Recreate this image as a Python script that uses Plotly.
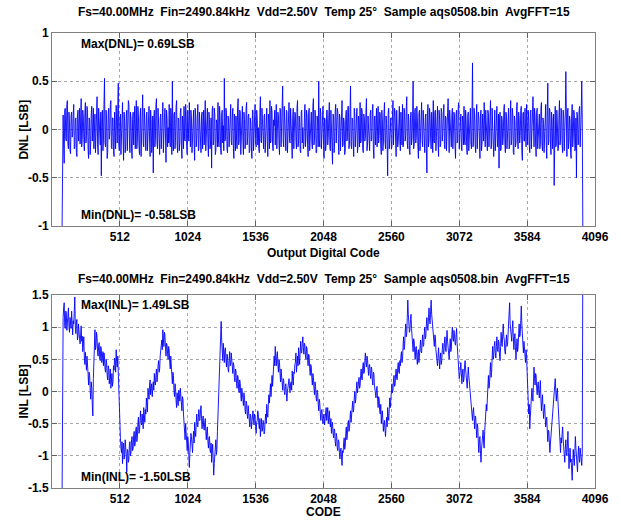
import plotly.graph_objects as go

# ---------------- data ----------------
CODE_START = 76
CODE_STEP = 4

dnl = [
    -1.00, 0.12, 0.15, -0.18, -0.35, 0.20, 0.22, -0.10, -0.12, 0.26, 0.30, -0.15, -0.20, 0.18, 0.08, -0.22, -0.25, 0.14, 0.18, -0.08,
    -0.05, 0.16, 0.26, -0.20, -0.18, 0.10, 0.12, -0.24, -0.28, 0.14, 0.20, -0.12, 0.02, 0.22, -0.15, 0.06, 0.32, -0.18, -0.10, 0.20,
    0.14, -0.10, -0.22, 0.18, 0.28, -0.14, -0.06, 0.24, 0.18, -0.20, -0.30, 0.12, 0.10, -0.26, -0.14, 0.16, 0.24, -0.12, -0.02, 0.22,
    -0.20, 0.10, 0.16, -0.24, -0.08, 0.20, 0.34, -0.16, -0.26, 0.22, 0.06, -0.12, -0.16, 0.18, -0.48, 0.08, 0.20, -0.22, -0.12, 0.26,
    0.53, -0.14, -0.18, 0.20, 0.10, -0.30, -0.24, 0.16, 0.22, -0.10, -0.04, 0.26, 0.30, -0.18, -0.20, 0.12, 0.12, -0.22, -0.28, 0.18,
    0.04, -0.20, 0.25, -0.12, -0.14, 0.22, 0.48, -0.16, -0.22, 0.10, 0.16, -0.26, -0.10, 0.20, 0.28, -0.08, -0.32, 0.18, 0.08, -0.24,
    -0.16, 0.14, 0.20, -0.22, -0.06, 0.30, 0.26, -0.12, -0.24, 0.18, 0.12, -0.20, -0.30, 0.10, 0.18, -0.16, 0.02, 0.24, -0.20, 0.08,
    0.30, -0.20, -0.12, 0.24, 0.14, -0.16, -0.26, 0.12, 0.22, -0.28, -0.08, 0.18, 0.36, -0.14, -0.18, 0.22, 0.06, -0.10, -0.22, 0.16,
    0.18, -0.22, -0.04, 0.16, 0.24, -0.12, -0.28, 0.20, 0.10, -0.24, -0.16, 0.14, -0.45, 0.10, 0.20, -0.18, -0.10, 0.26, 0.32, -0.14,
    -0.20, 0.22, 0.08, -0.16, -0.26, 0.12, 0.16, -0.20, -0.06, 0.18, 0.28, -0.24, -0.14, 0.10, 0.22, -0.12, -0.34, 0.20, 0.12, -0.18,
    0.02, -0.14, 0.26, -0.10, -0.18, 0.22, 0.14, -0.26, 0.50, -0.12, -0.22, 0.16, 0.18, -0.20, -0.08, 0.24, 0.30, -0.16, -0.24, 0.12,
    0.10, -0.22, -0.14, 0.18, 0.22, -0.16, -0.30, 0.14, 0.06, -0.20, 0.24, -0.10, -0.12, 0.26, 0.16, -0.18, -0.26, 0.20, 0.04, -0.12,
    0.28, -0.12, -0.18, 0.20, 0.12, -0.24, -0.06, 0.16, 0.20, -0.14, -0.32, 0.22, 0.14, -0.18, -0.10, 0.12, 0.26, -0.22, -0.20, 0.18,
    0.08, -0.16, -0.24, 0.14, 0.18, -0.20, 0.02, 0.20, -0.16, 0.10, 0.30, -0.22, -0.08, 0.16, 0.22, -0.14, -0.28, 0.18, 0.10, -0.20,
    -0.14, 0.12, -0.40, 0.20, 0.24, -0.16, -0.12, 0.22, 0.16, -0.26, -0.22, 0.10, 0.06, -0.18, 0.28, -0.12, -0.18, 0.24, 0.12, -0.20,
    -0.26, 0.16, 0.20, -0.14, 0.04, -0.22, 0.53, -0.12, -0.10, 0.22, 0.18, -0.20, -0.24, 0.14, 0.10, -0.18, -0.06, 0.20, 0.26, -0.12,
    -0.16, 0.12, 0.22, -0.18, -0.30, 0.16, 0.08, -0.22, 0.14, -0.10, -0.20, 0.24, 0.32, -0.16, -0.12, 0.20, 0.18, -0.26, -0.04, 0.14,
    0.24, -0.12, -0.26, 0.18, 0.10, -0.20, -0.14, 0.22, 0.28, -0.16, -0.08, 0.14, 0.16, -0.24, -0.22, 0.12, 0.06, -0.18, -0.30, 0.20,
    0.20, -0.22, -0.10, 0.16, 0.26, -0.14, -0.18, 0.20, 0.12, -0.16, 0.02, -0.20, -0.24, 0.18, 0.34, -0.12, -0.14, 0.22, 0.08, -0.18,
    -0.20, 0.14, 0.16, -0.24, -0.06, 0.18, 0.22, -0.12, -0.28, 0.16, 0.10, -0.20, 0.30, -0.14, -0.12, 0.24, 0.18, -0.16, -0.22, 0.10,
    0.04, 0.20, -0.16, 0.12, 0.26, -0.20, -0.08, 0.18, 0.14, -0.14, -0.26, 0.22, 0.20, -0.18, -0.02, 0.16, 0.45, -0.12, -0.18, 0.24,
    0.10, -0.14, -0.22, 0.20, 0.18, -0.24, -0.10, 0.16, 0.28, -0.12, -0.14, 0.22, 0.06, -0.18, -0.30, 0.14, 0.22, -0.20, -0.04, 0.18,
    0.16, -0.12, -0.20, 0.22, 0.30, -0.18, -0.12, 0.14, 0.08, -0.22, -0.24, 0.18, 0.20, -0.14, 0.02, -0.20, -0.16, 0.12, 0.26, -0.18,
    -0.08, 0.20, 0.14, -0.16, -0.28, 0.18, 0.22, -0.22, -0.06, 0.12, 0.18, -0.14, -0.20, 0.24, 0.32, -0.16, -0.10, 0.20, 0.12, -0.24,
    -0.24, 0.14, 0.08, -0.18, 0.50, -0.10, -0.18, 0.22, 0.16, -0.20, -0.04, 0.18, 0.24, -0.14, -0.30, 0.12, 0.10, -0.22, -0.14, 0.20,
    0.20, -0.16, -0.08, 0.14, 0.28, -0.18, -0.22, 0.20, 0.06, -0.12, -0.36, 0.16, 0.14, -0.24, -0.12, 0.18, 0.26, -0.14, -0.02, 0.22,
    0.18, -0.14, -0.26, 0.16, 0.12, -0.22, -0.06, 0.20, 0.30, -0.18, -0.16, 0.12, 0.08, -0.26, -0.22, 0.14, 0.20, -0.12, -0.10, 0.24,
    0.24, -0.20, -0.14, 0.18, 0.45, -0.16, -0.20, 0.12, 0.10, -0.14, -0.28, 0.22, 0.16, -0.18, -0.04, 0.20, 0.22, -0.24, -0.18, 0.14,
    0.06, -0.18, 0.28, -0.14, -0.12, 0.22, 0.18, -0.20, -0.24, 0.16, 0.12, -0.12, -0.08, 0.18, 0.32, -0.22, -0.16, 0.14, 0.04, -0.20,
    -0.22, 0.16, 0.20, -0.12, -0.10, 0.18, 0.26, -0.20, -0.30, 0.12, 0.14, -0.16, 0.02, 0.22, -0.18, 0.10, 0.24, -0.14, -0.06, 0.18,
    0.16, -0.18, -0.26, 0.20, 0.10, -0.22, -0.14, 0.16, 0.28, -0.12, -0.20, 0.14, 0.06, -0.16, -0.48, 0.18, 0.22, -0.20, -0.08, 0.12,
    0.12, -0.20, -0.18, 0.14, 0.30, -0.16, -0.04, 0.22, 0.18, -0.12, -0.28, 0.20, 0.08, -0.18, -0.12, 0.16, 0.24, -0.14, -0.22, 0.18,
    0.02, -0.16, 0.26, -0.18, -0.14, 0.22, 0.16, -0.12, -0.06, 0.20, 0.34, -0.14, -0.20, 0.16, 0.10, -0.22, -0.26, 0.12, 0.18, -0.16,
    -0.10, 0.14, 0.50, -0.20, -0.16, 0.18, 0.22, -0.14, -0.08, 0.24, 0.12, -0.18, -0.30, 0.16, 0.20, -0.22, -0.02, 0.14, 0.28, -0.12,
    -0.18, 0.20, 0.08, -0.16, -0.24, 0.12, 0.16, -0.20, -0.45, 0.14, 0.26, -0.18, -0.12, 0.22, 0.14, -0.10, -0.20, 0.18, 0.06, -0.24,
    0.30, -0.12, -0.14, 0.18, 0.20, -0.22, -0.06, 0.16, 0.24, -0.14, -0.28, 0.20, 0.10, -0.18, -0.16, 0.22, 0.18, -0.12, -0.04, 0.16,
    0.26, -0.16, -0.20, 0.14, 0.12, -0.22, -0.10, 0.18, 0.32, -0.12, -0.24, 0.20, 0.04, -0.16, -0.18, 0.14, 0.22, -0.20, -0.08, 0.18,
    0.14, -0.18, -0.30, 0.16, 0.20, -0.14, -0.12, 0.22, 0.28, -0.20, -0.02, 0.12, 0.16, -0.18, -0.22, 0.14, 0.08, -0.16, 0.24, -0.12,
    -0.16, 0.20, 0.10, -0.18, -0.26, 0.14, 0.18, -0.22, -0.06, 0.16, 0.22, -0.14, -0.20, 0.12, 0.69, -0.18, -0.10, 0.22, 0.14, -0.16,
    -0.24, 0.12, 0.26, -0.20, -0.08, 0.18, 0.12, -0.16, -0.30, 0.14, 0.20, -0.22, -0.14, 0.16, 0.06, -0.12, 0.28, -0.18, -0.18, 0.20,
    0.08, -0.14, -0.22, 0.20, 0.16, -0.18, -0.04, 0.14, 0.30, -0.20, -0.16, 0.22, 0.12, -0.12, -0.28, 0.16, 0.20, -0.22, -0.06, 0.14,
    0.24, -0.18, -0.12, 0.16, -0.40, 0.12, 0.18, -0.22, -0.20, 0.14, 0.10, -0.16, -0.08, 0.20, 0.26, -0.14, -0.24, 0.18, 0.14, -0.20,
    -0.02, 0.16, 0.22, -0.20, -0.18, 0.12, 0.30, -0.16, -0.10, 0.22, 0.16, -0.24, -0.26, 0.14, 0.08, -0.18, -0.14, 0.20, 0.28, -0.12,
    -0.20, 0.18, 0.12, -0.14, -0.06, 0.20, 0.24, -0.22, -0.32, 0.16, 0.18, -0.12, -0.12, 0.22, 0.04, -0.18, 0.26, -0.14, -0.16, 0.20,
    0.10, -0.16, -0.24, 0.18, 0.20, -0.20, -0.08, 0.14, 0.34, -0.12, -0.18, 0.22, 0.14, -0.16, -0.28, 0.18, 0.22, -0.20, -0.02, 0.16,
    0.16, -0.20, -0.14, 0.22, 0.28, -0.16, -0.22, 0.12, 0.06, -0.24, -0.10, 0.18, 0.26, -0.14, -0.30, 0.20, 0.48, -0.16, -0.12, 0.22,
    0.20, -0.14, -0.26, 0.18, 0.12, -0.20, -0.06, 0.16, -0.58, 0.12, 0.24, -0.18, -0.16, 0.20, 0.08, -0.22, -0.20, 0.14, 0.30, -0.16,
    -0.10, 0.22, 0.18, -0.16, -0.24, 0.20, 0.14, -0.22, -0.04, 0.16, 0.60, -0.14, -0.28, 0.18, 0.22, -0.20, -0.12, 0.14, 0.10, -0.24,
    -0.30, 0.14, 0.26, -0.18, -0.08, 0.20, 0.16, -0.22, -0.20, 0.12, -0.50, 0.18, 0.12, -0.16, -0.14, 0.20, 0.24, -0.18, -0.06, 0.16,
    0.50, 0.10, -1.00,
]

inl = [
    -1.60, 1.05, 1.15, 1.30, 1.38, 1.02, 0.98, 1.25, 1.22, 0.95, 1.05, 1.20, 1.30, 1.00, 0.92, 1.15, 1.10, 0.98, 1.25, 0.95,
    0.88, 1.10, 1.05, 1.25, 1.47, 1.00, 0.90, 1.08, 1.12, 0.80, 0.85, 1.05, 0.98, 0.82, 0.74, 0.95, 1.02, 0.78, 0.86, 0.62,
    0.70, 0.85, 0.52, 0.42, 0.61, 0.48, 0.33, 0.55, 0.45, 0.28, 0.10, 0.30, 0.25, 0.02, -0.12, 0.15, 0.05, -0.20, -0.38, 0.20,
    0.62, 0.80, 0.96, 0.65, 0.70, 0.92, 0.84, 0.60, 0.55, 0.72, 0.76, 0.50, 0.48, 0.70, 0.66, 0.45, 0.58, 0.62, 0.40, 0.60,
    0.52, 0.35, 0.30, 0.50, 0.44, 0.25, 0.18, 0.40, 0.36, 0.12, 0.22, 0.35, 0.05, 0.20, 0.28, 0.08, 0.15, 0.40, 0.33, 0.52,
    0.48, 0.30, 0.65, 0.45, 0.38, 0.55, 0.20, -0.15, -0.45, -0.55, -0.72, -0.88, -0.95, -0.78, -1.12, -0.90, -0.80, -1.05, -0.98, -0.75,
    -0.85, -1.00, -1.25, -0.90, -0.92, -1.10, -1.05, -0.82, -0.78, -1.00, -0.95, -0.75, -0.70, -0.92, -0.88, -0.68, -0.62, -0.85, -0.80, -0.60,
    -0.55, -0.78, -0.72, -0.50, -0.40, -0.65, -0.62, -0.45, -0.30, -0.48, -0.52, -0.35, -0.42, -0.58, -0.25, -0.40, -0.48, -0.28, -0.35, -0.10,
    -0.20, -0.32, 0.05, -0.08, -0.12, 0.10, 0.18, -0.05, 0.02, 0.12, -0.08, 0.05, 0.15, 0.02, 0.28, 0.15, 0.10, 0.25, 0.35, 0.15,
    0.22, 0.40, 0.48, 0.30, 0.35, 0.55, 0.62, 0.75, 0.80, 0.65, 0.96, 0.82, 0.70, 0.92, 0.88, 0.68, 0.55, 0.75, 0.72, 0.58,
    0.50, 0.70, 0.64, 0.45, 0.35, 0.55, 0.42, 0.25, 0.12, 0.30, 0.25, 0.02, -0.08, 0.12, 0.05, -0.15, -0.25, -0.02, -0.10, -0.22,
    0.02, -0.10, -0.15, 0.05, -0.05, -0.20, -0.30, -0.08, -0.12, -0.35, -0.55, -0.62, -0.75, -0.50, -0.60, -0.82, -0.92, -0.70, -0.78, -1.00,
    -1.18, -0.95, -0.85, -0.65, -0.70, -0.88, -0.95, -0.75, -0.62, -0.80, -0.48, -0.62, -0.70, -0.50, -0.35, -0.52, -0.55, -0.40, -0.28, -0.45,
    -0.45, -0.30, -0.22, -0.42, -0.58, -0.45, -0.38, -0.55, -0.60, -0.48, -0.42, -0.62, -0.75, -0.60, -0.55, -0.78, -0.88, -0.72, -0.70, -0.92,
    -0.95, -0.80, -1.10, -0.95, -0.82, -1.05, -1.30, -1.12, -1.02, -0.85, -0.75, -0.98, -0.90, -0.62, -0.40, -0.25, -0.10, 0.15, 0.35, 0.70,
    1.09, 0.80, 0.62, 0.48, 0.75, 0.58, 0.45, 0.65, 0.68, 0.50, 0.38, 0.58, 0.55, 0.35, 0.30, 0.48, 0.62, 0.40, 0.42, 0.60,
    0.50, 0.35, 0.28, 0.45, 0.40, 0.22, 0.15, 0.35, 0.32, 0.12, 0.05, 0.25, 0.22, 0.02, -0.02, 0.18, 0.12, -0.05, -0.15, 0.05,
    0.00, -0.12, -0.22, -0.02, -0.10, -0.28, -0.35, -0.15, -0.18, -0.35, -0.42, -0.22, -0.30, -0.45, -0.55, -0.35, -0.38, -0.58, -0.48, -0.32,
    -0.30, -0.45, -0.52, -0.35, -0.40, -0.55, -0.65, -0.48, -0.45, -0.30, -0.35, -0.50, -0.58, -0.42, -0.70, -0.55, -0.42, -0.62, -0.60, -0.45,
    -0.48, -0.66, -0.62, -0.45, -0.35, -0.50, -0.20, -0.35, -0.40, -0.20, -0.05, -0.18, 0.10, 0.12, -0.08, 0.15, 0.25, 0.08, 0.35, 0.50,
    0.55, 0.40, 0.70, 0.52, 0.40, 0.55, 0.62, 0.42, 0.30, 0.50, 0.45, 0.28, 0.15, 0.35, 0.25, 0.08, 0.02, 0.20, 0.18, 0.00,
    -0.05, 0.08, 0.12, -0.02, -0.15, 0.00, 0.05, 0.15, 0.20, 0.05, -0.02, 0.12, 0.15, 0.02, 0.32, 0.18, 0.10, 0.30, 0.28, 0.42,
    0.45, 0.60, 0.30, 0.42, 0.55, 0.40, 0.68, 0.55, 0.42, 0.62, 0.78, 0.60, 0.60, 0.75, 0.85, 0.68, 0.58, 0.75, 0.72, 0.55,
    0.50, 0.70, 0.66, 0.48, 0.40, 0.58, 0.55, 0.35, 0.25, 0.42, 0.38, 0.20, 0.10, 0.28, 0.22, 0.05, -0.05, 0.15, 0.08, -0.10,
    -0.15, 0.02, -0.02, -0.20, -0.30, -0.12, -0.18, -0.35, -0.45, -0.30, -0.28, -0.42, -0.50, -0.38, -0.35, -0.52, -0.42, -0.30, -0.25, -0.45,
    -0.38, -0.25, -0.50, -0.35, -0.30, -0.48, -0.55, -0.42, -0.65, -0.52, -0.48, -0.65, -0.72, -0.58, -0.60, -0.78, -0.85, -0.65, -0.70, -0.88,
    -0.92, -0.75, -0.78, -0.95, -1.05, -0.90, -0.88, -1.02, -1.15, -0.92, -0.95, -0.80, -0.72, -0.90, -0.85, -0.65, -0.55, -0.75, -0.68, -0.50,
    -0.45, -0.62, -0.58, -0.42, -0.30, -0.48, -0.40, -0.25, -0.15, -0.32, -0.28, -0.10, 0.00, -0.18, -0.12, 0.05, 0.15, -0.02, 0.05, 0.20,
    0.22, 0.05, 0.08, 0.25, 0.35, 0.20, 0.18, 0.38, 0.45, 0.28, 0.30, 0.48, 0.60, 0.45, 0.38, 0.55, 0.52, 0.35, 0.25, 0.40,
    0.42, 0.28, 0.20, 0.38, 0.35, 0.18, 0.10, 0.30, 0.28, 0.10, 0.05, -0.05, -0.10, 0.05, 0.08, -0.12, -0.25, -0.08, -0.12, -0.30,
    -0.35, -0.20, -0.50, -0.38, -0.30, -0.48, -0.62, -0.50, -0.45, -0.60, -0.70, -0.52, -0.40, -0.55, -0.25, -0.38, -0.45, -0.28, -0.10, -0.25,
    -0.05, 0.08, 0.12, -0.02, 0.02, 0.18, 0.25, 0.08, 0.10, 0.28, 0.35, 0.20, 0.18, 0.38, 0.45, 0.30, 0.28, 0.48, 0.40, 0.55,
    0.62, 0.45, 0.50, 0.70, 0.85, 0.65, 0.72, 0.92, 1.05, 0.85, 0.90, 1.15, 1.42, 1.20, 1.10, 0.92, 0.95, 1.12, 1.20, 0.98,
    0.85, 0.70, 0.62, 0.82, 0.78, 0.60, 0.50, 0.68, 0.70, 0.52, 0.42, 0.60, 0.65, 0.45, 0.55, 0.72, 0.80, 0.62, 0.60, 0.78,
    0.88, 0.70, 0.72, 0.90, 1.00, 0.82, 0.85, 1.05, 1.15, 0.98, 0.95, 1.15, 1.30, 1.10, 1.05, 1.25, 1.42, 1.20, 1.12, 0.95,
    0.96, 0.80, 0.70, 0.88, 0.85, 0.65, 0.55, 0.42, 0.40, 0.55, 0.68, 0.50, 0.35, 0.52, 0.60, 0.42, 0.48, 0.65, 0.75, 0.60,
    0.58, 0.75, 0.85, 0.68, 0.62, 0.80, 0.95, 0.78, 0.70, 0.55, 0.50, 0.68, 0.82, 0.62, 0.65, 0.88, 1.00, 0.82, 0.78, 0.95,
    0.90, 0.75, 0.72, 0.88, 0.98, 0.75, 0.55, 0.38, 0.40, 0.20, 0.25, 0.42, 0.45, 0.28, 0.12, 0.30, 0.35, 0.15, 0.20, 0.38,
    0.48, 0.35, 0.28, 0.12, 0.05, 0.22, 0.38, 0.25, 0.15, 0.02, 0.00, -0.15, -0.30, -0.40, -0.45, -0.30, -0.25, -0.42, -0.58, -0.38,
    -0.40, -0.58, -0.72, -0.50, -0.55, -0.80, -0.95, -0.75, -0.70, -0.92, -1.10, -0.90, -0.82, -0.65, -0.60, -0.80, -0.88, -0.62, -0.45, -0.35,
    -0.20, -0.30, -0.05, 0.10, 0.25, 0.05, 0.10, 0.30, 0.45, 0.22, 0.30, 0.52, 0.70, 0.50, 0.55, 0.72, 0.78, 0.60, 0.52, 0.70,
    0.85, 0.65, 0.62, 0.80, 0.75, 0.55, 0.48, 0.70, 0.92, 0.75, 0.70, 0.90, 1.05, 0.85, 0.80, 0.62, 0.58, 0.75, 0.88, 0.70,
    0.72, 0.88, 1.00, 1.18, 1.38, 1.05, 0.95, 0.80, 0.78, 0.98, 1.10, 0.85, 0.65, 0.82, 0.90, 0.68, 0.50, 0.70, 0.82, 0.62,
    0.70, 0.90, 1.05, 0.85, 0.88, 1.10, 1.33, 1.05, 0.92, 0.75, 0.60, 0.78, 0.70, 0.52, 0.45, 0.65, 0.55, 0.30, 0.10, -0.10,
    -0.35, -0.20, -0.58, -0.40, -0.20, -0.05, 0.05, -0.10, -0.15, 0.15, 0.38, 0.20, 0.10, 0.28, 0.25, 0.05, -0.05, 0.10, 0.15, -0.02,
    -0.10, 0.05, 0.17, -0.12, -0.30, -0.15, -0.05, -0.25, -0.42, -0.30, -0.20, -0.38, -0.55, -0.45, -0.40, -0.60, -0.78, -0.60, -0.62, -0.80,
    -0.95, -0.80, -0.70, -0.58, -0.52, -0.38, -0.25, -0.12, -0.05, 0.08, 0.20, 0.02, -0.15, -0.02, 0.05, -0.12, -0.30, -0.52, -0.72, -0.85,
    -0.95, -0.72, -0.80, -0.65, -0.55, -0.75, -0.92, -1.05, -1.10, -0.90, -0.75, -0.95, -1.00, -0.80, -0.62, -0.95, -1.20, -1.02, -0.88, -1.10,
    -1.05, -1.22, -1.38, -1.10, -0.90, -1.05, -1.15, -0.92, -0.70, -0.88, -1.02, -1.18, -1.25, -1.00, -0.85, -1.02, -1.10, -0.88, -0.95, -1.12,
    -1.15, -0.95, 2.00,
]

dnl_codes = [CODE_START + CODE_STEP * i for i in range(len(dnl))]
inl_codes = [CODE_START + CODE_STEP * i for i in range(len(inl))]

x_tickvals = [512, 1024, 1536, 2048, 2560, 3072, 3584, 4096]
x_ticktext = ["512", "1024", "1536", "2048", "2560", "3072", "3584", "4096"]
dnl_tickvals = [-1, -0.5, 0, 0.5, 1]
dnl_ticktext = ["-1", "-0.5", "0", "0.5", "1"]
inl_tickvals = [-1.5, -1, -0.5, 0, 0.5, 1, 1.5]
inl_ticktext = ["-1.5", "-1", "-0.5", "0", "0.5", "1", "1.5"]

NB = "\u00a0\u00a0"
title_text = NB.join(["Fs=40.00MHz", "Fin=2490.84kHz", "Vdd=2.50V", "Temp 25°",
                      "Sample aqs0508.bin", "AvgFFT=15"])
dnl_max_text = "Max(DNL)= 0.69LSB"
dnl_min_text = "Min(DNL)= -0.58LSB"
inl_max_text = "Max(INL)= 1.49LSB"
inl_min_text = "Min(INL)= -1.50LSB"

# ---------------- figure ----------------
FONT = "Liberation Sans, Arial, Helvetica, sans-serif"
bold = dict(family=FONT, size=12, color="black", weight="bold")

fig = go.Figure()
fig.add_trace(go.Scatter(x=dnl_codes, y=dnl, mode="lines",
                         line=dict(color="#0000ff", width=0.9),
                         xaxis="x", yaxis="y", showlegend=False, hoverinfo="skip"))
fig.add_trace(go.Scatter(x=inl_codes, y=inl, mode="lines",
                         line=dict(color="#0000ff", width=0.9),
                         xaxis="x2", yaxis="y2", showlegend=False, hoverinfo="skip"))

axis_common = dict(
    showline=True, linecolor="#808080", linewidth=1, mirror="ticks",
    ticks="inside", ticklen=5, tickcolor="#606060", tickwidth=1,
    showgrid=True, gridcolor="#a8a8a8", griddash="dot", gridwidth=1,
    zeroline=False, tickfont=bold, fixedrange=True,
)

PLOT_H = 455.0
PLOT_W = 554.0
top_bottom = (488 - 226) / PLOT_H
bot_top = (488 - 295) / PLOT_H

fig.update_layout(
    width=621, height=522,
    margin=dict(l=52, r=15, t=33, b=34),
    paper_bgcolor="white", plot_bgcolor="white",
    hovermode=False,
    xaxis=dict(domain=[0, 1], anchor="y", range=[0, 4096],
               tickvals=x_tickvals, ticktext=x_ticktext, **axis_common),
    yaxis=dict(domain=[top_bottom, 1], anchor="x", range=[-1, 1],
               tickvals=dnl_tickvals, ticktext=dnl_ticktext, **axis_common),
    xaxis2=dict(domain=[0, 1], anchor="y2", range=[0, 4096],
                tickvals=x_tickvals, ticktext=x_ticktext, **axis_common),
    yaxis2=dict(domain=[0, bot_top], anchor="x2", range=[-1.5, 1.5],
                tickvals=inl_tickvals, ticktext=inl_ticktext, **axis_common),
)

ann = []
ann.append(dict(text=title_text, xref="paper", yref="paper", x=0.5, y=(488 - 12) / PLOT_H,
                xanchor="center", yanchor="middle", showarrow=False, font=bold))
ann.append(dict(text=title_text, xref="paper", yref="paper", x=0.5, y=(488 - 279) / PLOT_H,
                xanchor="center", yanchor="middle", showarrow=False, font=bold))
ann.append(dict(text="Output Digital Code", xref="paper", yref="paper", x=0.5,
                y=(488 - 253) / PLOT_H, xanchor="center", yanchor="middle",
                showarrow=False, font=bold))
ann.append(dict(text="CODE", xref="paper", yref="paper", x=0.5,
                y=(488 - 512) / PLOT_H, xanchor="center", yanchor="middle",
                showarrow=False, font=bold))
ann.append(dict(text="DNL [LSB]", xref="paper", yref="paper", x=(23 - 52) / PLOT_W,
                y=(488 - 130) / PLOT_H, xanchor="center", yanchor="middle",
                textangle=-90, showarrow=False, font=bold))
ann.append(dict(text="INL [LSB]", xref="paper", yref="paper", x=(23 - 52) / PLOT_W,
                y=(488 - 392) / PLOT_H, xanchor="center", yanchor="middle",
                textangle=-90, showarrow=False, font=bold))
ann.append(dict(text=dnl_max_text, xref="x", yref="y", x=200, y=0.885,
                xanchor="left", yanchor="middle", showarrow=False, font=bold))
ann.append(dict(text=dnl_min_text, xref="x", yref="y", x=200, y=-0.885,
                xanchor="left", yanchor="middle", showarrow=False, font=bold))
ann.append(dict(text=inl_max_text, xref="x2", yref="y2", x=200, y=1.345,
                xanchor="left", yanchor="middle", showarrow=False, font=bold))
ann.append(dict(text=inl_min_text, xref="x2", yref="y2", x=200, y=-1.33,
                xanchor="left", yanchor="middle", showarrow=False, font=bold))
fig.update_layout(annotations=ann)

# the page's default 8px body margin would shift the 621x522 figure; remove it
fig.write_html("out.html", config={"displayModeBar": False, "staticPlot": True},
               post_script="document.body.style.margin='0px';")
